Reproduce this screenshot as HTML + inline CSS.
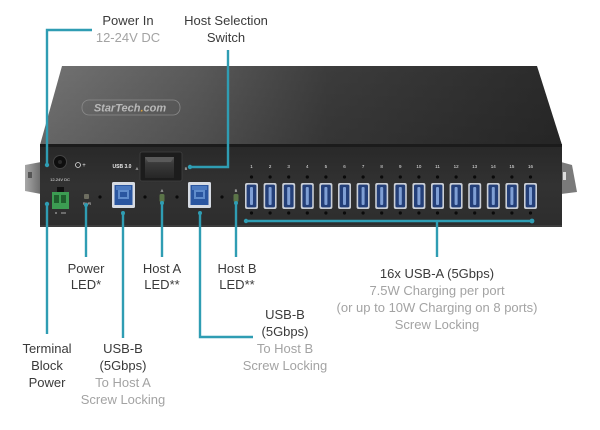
<!DOCTYPE html>
<html><head><meta charset="utf-8"><style>
html,body{margin:0;padding:0;background:#fff;}
svg{display:block;}
.t{font-family:"Liberation Sans",sans-serif;font-size:13px;fill:#3a3a3a;text-anchor:middle;}
.g{fill:#a3a3a3;}
.s{font-family:"Liberation Sans",sans-serif;fill:#e8e8e8;text-anchor:middle;}
</style></head><body>
<svg width="600" height="430" viewBox="0 0 600 430" xmlns="http://www.w3.org/2000/svg">
<defs>
<linearGradient id="top" x1="0" y1="0" x2="1" y2="0">
<stop offset="0" stop-color="#737373"/>
<stop offset="0.3" stop-color="#5a5a5a"/>
<stop offset="0.55" stop-color="#3c3c3c"/>
<stop offset="1" stop-color="#2a2a2a"/>
</linearGradient>
<linearGradient id="topv" x1="0" y1="0" x2="0" y2="1">
<stop offset="0" stop-color="#000" stop-opacity="0"/>
<stop offset="1" stop-color="#000" stop-opacity="0.12"/>
</linearGradient>
<linearGradient id="front" x1="0" y1="0" x2="0" y2="1">
<stop offset="0" stop-color="#282828"/>
<stop offset="0.5" stop-color="#323232"/>
<stop offset="1" stop-color="#2d2d2d"/>
</linearGradient>
<linearGradient id="brk" x1="0" y1="0" x2="1" y2="0">
<stop offset="0" stop-color="#a8a8a8"/>
<stop offset="1" stop-color="#6a6a6a"/>
</linearGradient>
<linearGradient id="rock" x1="0" y1="0" x2="0" y2="1">
<stop offset="0" stop-color="#555"/>
<stop offset="0.3" stop-color="#3a3a3a"/>
<stop offset="1" stop-color="#262626"/>
</linearGradient>
<g id="pa">
<circle cx="6.5" cy="177" r="1.6" fill="#0a0a0a"/>
<rect x="0" y="183" width="13" height="26" rx="2" fill="#c9ced6"/>
<rect x="1.6" y="184.6" width="9.8" height="22.8" rx="1.5" fill="#243f78"/>
<rect x="5" y="187" width="3" height="18" rx="1" fill="#7f9fd4"/>
<circle cx="6.5" cy="213" r="1.6" fill="#0a0a0a"/>
</g>
</defs>
<rect width="600" height="430" fill="#fff"/>

<!-- brackets -->
<polygon points="25,165 41,162 41,194 25,191" fill="url(#brk)"/>
<rect x="28" y="172" width="4" height="6" fill="#555"/>
<polygon points="561,162 572,165 577,192 561,194" fill="#7a7a7a"/>
<rect x="563" y="172" width="3" height="8" fill="#ddd"/>

<!-- top surface -->
<polygon points="62,66 537,66 562,145 40,145" fill="url(#top)"/>
<polygon points="62,66 537,66 562,145 40,145" fill="url(#topv)"/>
<rect x="82" y="100" width="98" height="15" rx="7" fill="none" stroke="#8a8a8a" stroke-width="0.8"/>
<text x="130" y="111.5" font-family="Liberation Sans,sans-serif" font-size="11" font-weight="bold" font-style="italic" fill="#b8b8b8" text-anchor="middle">StarTech<tspan fill="#d9a13a">.</tspan>com</text>

<!-- front face -->
<rect x="40" y="144" width="522" height="83" fill="url(#front)"/>
<rect x="40" y="144" width="522" height="3" fill="#1b1b1b"/>
<rect x="40" y="225" width="522" height="2" fill="#3c3c3c"/>

<!-- DC jack -->
<circle cx="60" cy="162" r="6.5" fill="#0e0e0e" stroke="#444" stroke-width="1"/>
<circle cx="60" cy="162" r="2" fill="#2a2a2a"/>
<text class="s" x="60" y="181" font-size="4">12-24V DC</text>
<circle cx="78" cy="165" r="2.5" fill="none" stroke="#ddd" stroke-width="0.8"/>
<text class="s" x="84" y="167" font-size="6">+</text>

<!-- terminal block -->
<rect x="57" y="187" width="7" height="5" fill="#111"/>
<rect x="52" y="192" width="17" height="17" fill="#3c9c52"/>
<rect x="54" y="195" width="5" height="8" fill="#1f5e2d"/>
<rect x="61" y="195" width="5" height="8" fill="#1f5e2d"/>
<circle cx="56" cy="213" r="0.9" fill="#aaa"/>
<rect x="61" y="212.5" width="5" height="1" fill="#aaa"/>

<!-- power LED -->
<rect x="84" y="194" width="5" height="5" rx="1" fill="#6d6d60"/>
<text class="s" x="87" y="205" font-size="3.5">PWR</text>

<!-- screw holes -->
<circle cx="100" cy="197" r="1.6" fill="#0a0a0a"/>
<circle cx="145" cy="197" r="1.6" fill="#0a0a0a"/>
<circle cx="177" cy="197" r="1.6" fill="#0a0a0a"/>
<circle cx="222" cy="197" r="1.6" fill="#0a0a0a"/>

<!-- USB 3.0 label -->
<text class="s" x="122" y="168" font-size="5" font-weight="bold">USB 3.0</text>
<text class="s" x="137" y="170" font-size="4">A</text>
<text class="s" x="186" y="170" font-size="4">B</text>

<!-- USB-B A -->
<rect x="112" y="182" width="23" height="26" rx="1.5" fill="#d6dbe3"/>
<rect x="114.5" y="185" width="18" height="20" fill="#2a56a0"/>
<rect x="116" y="186" width="15" height="4" fill="#4b79c0"/>
<rect x="118" y="190" width="11" height="9" fill="#5f8ccc"/>
<rect x="120" y="192" width="7" height="5" fill="#2a56a0"/>
<text class="s" x="123" y="215" font-size="4">A</text>

<!-- switch -->
<rect x="140" y="152" width="42" height="29" rx="2" fill="#1c1c1c" stroke="#404040" stroke-width="0.8"/>
<rect x="145" y="157" width="29" height="21" fill="url(#rock)"/>
<polygon points="145,157 174,157 171,162 148,162" fill="#5a5a5a"/>

<!-- host A LED -->
<text class="s" x="162" y="192" font-size="4">A</text>
<rect x="159.5" y="194" width="5" height="8" rx="1.5" fill="#5b7448"/>

<!-- USB-B B -->
<rect x="188" y="182" width="23" height="26" rx="1.5" fill="#d6dbe3"/>
<rect x="190.5" y="185" width="18" height="20" fill="#2a56a0"/>
<rect x="192" y="186" width="15" height="4" fill="#4b79c0"/>
<rect x="194" y="190" width="11" height="9" fill="#5f8ccc"/>
<rect x="196" y="192" width="7" height="5" fill="#2a56a0"/>
<text class="s" x="200" y="215" font-size="4">B</text>

<!-- host B LED -->
<text class="s" x="236" y="192" font-size="4">B</text>
<rect x="233.5" y="194" width="5" height="8" rx="1.5" fill="#5b7448"/>

<!-- 16 USB-A ports -->
<g transform="translate(245,0)"><text class="s" x="6.5" y="168" font-size="4.5">1</text><use href="#pa"/></g>
<g transform="translate(263.6,0)"><text class="s" x="6.5" y="168" font-size="4.5">2</text><use href="#pa"/></g>
<g transform="translate(282.2,0)"><text class="s" x="6.5" y="168" font-size="4.5">3</text><use href="#pa"/></g>
<g transform="translate(300.8,0)"><text class="s" x="6.5" y="168" font-size="4.5">4</text><use href="#pa"/></g>
<g transform="translate(319.4,0)"><text class="s" x="6.5" y="168" font-size="4.5">5</text><use href="#pa"/></g>
<g transform="translate(338,0)"><text class="s" x="6.5" y="168" font-size="4.5">6</text><use href="#pa"/></g>
<g transform="translate(356.6,0)"><text class="s" x="6.5" y="168" font-size="4.5">7</text><use href="#pa"/></g>
<g transform="translate(375.2,0)"><text class="s" x="6.5" y="168" font-size="4.5">8</text><use href="#pa"/></g>
<g transform="translate(393.8,0)"><text class="s" x="6.5" y="168" font-size="4.5">9</text><use href="#pa"/></g>
<g transform="translate(412.4,0)"><text class="s" x="6.5" y="168" font-size="4.5">10</text><use href="#pa"/></g>
<g transform="translate(431,0)"><text class="s" x="6.5" y="168" font-size="4.5">11</text><use href="#pa"/></g>
<g transform="translate(449.6,0)"><text class="s" x="6.5" y="168" font-size="4.5">12</text><use href="#pa"/></g>
<g transform="translate(468.2,0)"><text class="s" x="6.5" y="168" font-size="4.5">13</text><use href="#pa"/></g>
<g transform="translate(486.8,0)"><text class="s" x="6.5" y="168" font-size="4.5">14</text><use href="#pa"/></g>
<g transform="translate(505.4,0)"><text class="s" x="6.5" y="168" font-size="4.5">15</text><use href="#pa"/></g>
<g transform="translate(524,0)"><text class="s" x="6.5" y="168" font-size="4.5">16</text><use href="#pa"/></g>

<!-- leader lines -->
<g stroke="#2f9db3" stroke-width="2.4" fill="none" stroke-linecap="butt">
<polyline points="92,30 47,30 47,165"/>
<polyline points="228,50 228,167 190,167"/>
<line x1="47" y1="204" x2="47" y2="334"/>
<line x1="86" y1="205" x2="86" y2="257"/>
<line x1="123" y1="213" x2="123" y2="338"/>
<line x1="162" y1="203" x2="162" y2="257"/>
<polyline points="200,213 200,337 253,337"/>
<line x1="236" y1="203" x2="236" y2="257"/>
<line x1="246" y1="221" x2="532" y2="221"/>
<line x1="437" y1="221" x2="437" y2="257"/>
</g>
<g fill="#2f9db3">
<circle cx="47" cy="165" r="2.2"/>
<circle cx="190" cy="167" r="2.2"/>
<circle cx="47" cy="204" r="2.2"/>
<circle cx="86" cy="205" r="2"/>
<circle cx="123" cy="213" r="2"/>
<circle cx="162" cy="203" r="2"/>
<circle cx="200" cy="213" r="2"/>
<circle cx="236" cy="203" r="2"/>
<circle cx="246" cy="221" r="2.2"/>
<circle cx="532" cy="221" r="2.4"/>
</g>

<!-- labels -->
<text class="t" x="128" y="25">Power In</text>
<text class="t g" x="128" y="42">12-24V DC</text>
<text class="t" x="226" y="25">Host Selection</text>
<text class="t" x="226" y="42">Switch</text>

<text class="t" x="86" y="273">Power</text>
<text class="t" x="86" y="289">LED*</text>
<text class="t" x="162" y="273">Host A</text>
<text class="t" x="162" y="289">LED**</text>
<text class="t" x="237" y="273">Host B</text>
<text class="t" x="237" y="289">LED**</text>

<text class="t" x="285" y="319">USB-B</text>
<text class="t" x="285" y="336">(5Gbps)</text>
<text class="t g" x="285" y="353">To Host B</text>
<text class="t g" x="285" y="370">Screw Locking</text>

<text class="t" x="47" y="353">Terminal</text>
<text class="t" x="47" y="370">Block</text>
<text class="t" x="47" y="387">Power</text>

<text class="t" x="123" y="353">USB-B</text>
<text class="t" x="123" y="370">(5Gbps)</text>
<text class="t g" x="123" y="387">To Host A</text>
<text class="t g" x="123" y="404">Screw Locking</text>

<text class="t" x="437" y="278">16x USB-A (5Gbps)</text>
<text class="t g" x="437" y="295">7.5W Charging per port</text>
<text class="t g" x="437" y="312">(or up to 10W Charging on 8 ports)</text>
<text class="t g" x="437" y="329">Screw Locking</text>
</svg>
</body></html>
